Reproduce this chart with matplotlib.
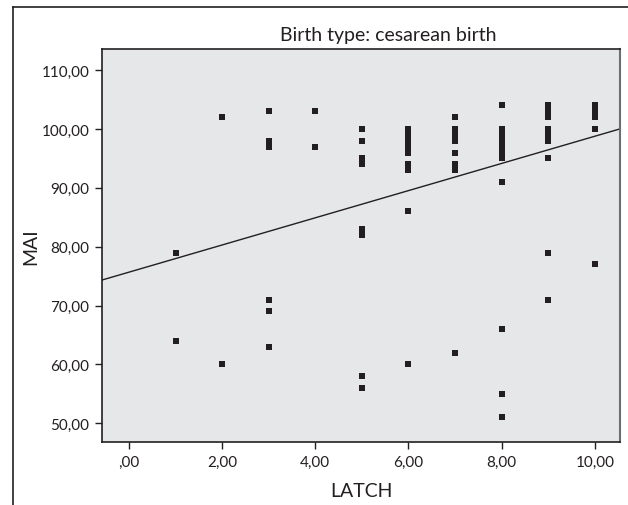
import numpy as np
import matplotlib
matplotlib.use('Agg')
import matplotlib.pyplot as plt
from matplotlib.lines import Line2D
from matplotlib.ticker import FuncFormatter

plt.rcParams['font.family'] = ['Lato', 'DejaVu Sans']

# LATCH score and MAI value for each visible point
latch = [1, 1,
         2, 2,
         3, 3, 3, 3, 3, 3,
         4, 4,
         5, 5, 5, 5, 5, 5, 5, 5,
         6, 6, 6, 6, 6, 6, 6, 6, 6,
         7, 7, 7, 7, 7, 7, 7, 7,
         8, 8, 8, 8, 8, 8, 8, 8, 8, 8, 8,
         9, 9, 9, 9, 9, 9, 9, 9, 9,
         10, 10, 10, 10, 10]
mai = [79, 64,
       102, 60,
       103, 98, 97, 71, 69, 63,
       103, 97,
       100, 98, 95, 94, 83, 82, 58, 56,
       100, 99, 98, 97, 96, 94, 93, 86, 60,
       102, 100, 99, 98, 96, 94, 93, 62,
       104, 100, 99, 98, 97, 96, 95, 91, 66, 55, 51,
       104, 103, 102, 100, 99, 98, 95, 79, 71,
       104, 103, 102, 100, 77]

# fitted line as drawn in the original
fit_intercept = 75.67
fit_slope = 2.31

x_ticks = [0, 2, 4, 6, 8, 10]
y_ticks = [50, 60, 70, 80, 90, 100, 110]


def comma_fmt(v, pos):
    s = '%.2f' % v
    s = s.replace('.', ',')
    if s.startswith('0,'):
        s = s[1:]
    return s


fig = plt.figure(figsize=(6.28, 5.06), dpi=100)
ax = fig.add_axes([0.1624, 0.1245, 0.8248, 0.7767])
ax.set_facecolor('#e6e7e8')

ax.scatter(latch, mai, marker='s', s=22, color='#231f20', linewidths=0, zorder=3)

xlim = (-0.58, 10.54)
xs = np.array(xlim)
ax.plot(xs, fit_intercept + fit_slope * xs, color='#231f20', lw=1.0, zorder=2)

ax.set_xlim(*xlim)
ax.set_ylim(46.8, 113.6)
ax.set_xticks(x_ticks)
ax.set_yticks(y_ticks)
ax.xaxis.set_major_formatter(FuncFormatter(comma_fmt))
ax.yaxis.set_major_formatter(FuncFormatter(comma_fmt))
ax.tick_params(direction='out', length=5, width=1, colors='#231f20', labelsize=11, pad=4)

for side in ['left', 'bottom', 'top']:
    ax.spines[side].set_color('#231f20')
    ax.spines[side].set_linewidth(1.2)
ax.spines['right'].set_color('#6d6e70')
ax.spines['right'].set_linewidth(1.5)

fig.text(388 / 628, 1 - 36 / 506, 'Birth type: cesarean birth', fontsize=14,
         color='#231f20', ha='center', va='center')
ax.set_xlabel('LATCH', fontsize=14, color='#231f20', labelpad=10)
ax.set_ylabel('MAI', fontsize=14, color='#231f20', labelpad=2)

# outer frame (left and top only)
fig.add_artist(Line2D([13 / 628, 13 / 628], [0, 1 - 8 / 506], transform=fig.transFigure,
                      color='#231f20', lw=1.2))
fig.add_artist(Line2D([13 / 628, 1], [1 - 8 / 506, 1 - 8 / 506], transform=fig.transFigure,
                      color='#231f20', lw=1.2))

fig.savefig('out.png', dpi=100)
